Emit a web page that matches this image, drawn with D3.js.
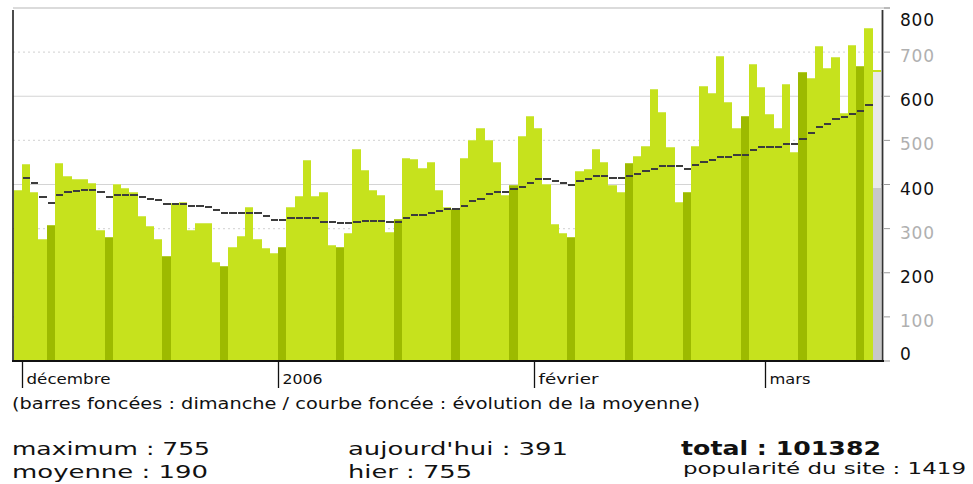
<!DOCTYPE html>
<html>
<head>
<meta charset="utf-8">
<script src="https://cdn.jsdelivr.net/npm/d3@7"></script>
<style>
  body { margin: 0; background: #fff; }
  text { font-family: "DejaVu Sans", Verdana, sans-serif; }
</style>
</head>
<body>
<div id="chart"></div>
<script>
// daily visits, 30 nov 2005 -> 13 mars 2006 (today is drawn apart)
var visits = [388, 447, 383, 277, 308, 449, 420, 413, 413, 404,
              297, 281, 401, 392, 384, 329, 305, 277, 237, 358,
              361, 297, 313, 313, 225, 216, 259, 284, 349, 277,
              256, 245, 259, 348, 373, 456, 373, 384, 263, 259,
              289, 481, 433, 388, 376, 293, 321, 461, 457, 437,
              452, 388, 350, 344, 461, 501, 529, 501, 452, 376,
              400, 510, 556, 529, 402, 311, 289, 280, 431, 435,
              481, 452, 398, 382, 448, 465, 488, 617, 564, 484,
              361, 384, 488, 624, 608, 692, 588, 529, 556, 673,
              620, 560, 529, 628, 473, 656, 641, 713, 665, 689,
              562, 717, 669, 755];
// évolution de la moyenne
var average = [null, 415, 404, 372, 359, 376, 382, 385, 388, 388,
               382, 372, 376, 376, 376, 372, 367, 365, 355, 355,
               355, 352, 351, 349, 342, 336, 336, 336, 336, 336,
               329, 320, 320, 323, 323, 323, 323, 316, 316, 312,
               312, 316, 318, 318, 318, 316, 316, 324, 331, 331,
               335, 341, 344, 344, 351, 362, 367, 378, 382, 384,
               389, 395, 403, 412, 412, 407, 403, 399, 407, 412,
               420, 420, 414, 414, 420, 424, 431, 435, 441, 441,
               441, 435, 444, 450, 456, 463, 463, 467, 467, 478,
               486, 486, 486, 491, 491, 503, 516, 531, 538, 548,
               552, 559, 566, 580];
var todayVisits = 391;
var todayProjected = 660;

var startDay = new Date(2005, 10, 30);
var endDay = new Date(2006, 2, 15);
var monthLabels = ["décembre", "2006", "février", "mars"];
var yTicks = [0, 100, 200, 300, 400, 500, 600, 700, 800];

var statsLeft = ["maximum : 755", "moyenne : 190"];
var statsMid = ["aujourd'hui : 391", "hier : 755"];

var width = 973, height = 484;
var plotLeft = 13.7, plotRight = 881, plotTop = 8, plotBottom = 361;

var svg = d3.select("#chart").append("svg")
    .attr("width", width).attr("height", height);

var x = d3.scaleTime().domain([startDay, endDay]).range([plotLeft, plotRight]);
var y = d3.scaleLinear().domain([0, 800]).range([plotBottom, plotTop]);

var days = d3.timeDay.range(startDay, endDay);

// grid
svg.append("g").selectAll("line")
    .data(yTicks.filter(function(v){ return v > 0; }))
  .enter().append("line")
    .attr("x1", 13).attr("x2", function(v){ return v == 800 ? 890 : 882; })
    .attr("y1", function(v){ return y(v); }).attr("y2", function(v){ return y(v); })
    .attr("stroke", function(v){ return v == 800 ? "#cfcfcf" : (v % 200 == 0 ? "#d4d4d4" : "#dadada"); })
    .attr("stroke-width", function(v){ return v == 800 ? 1.5 : 1.2; })
    .attr("stroke-dasharray", function(v){ return v % 200 == 0 ? null : "2,3"; });

// bars
var bars = svg.append("g").attr("shape-rendering", "crispEdges");
days.forEach(function(d, i){
  var x0 = Math.round(x(d)), x1 = Math.round(x(d3.timeDay.offset(d, 1)));
  if (i < visits.length) {
    var sunday = d.getDay() == 0;
    var yt = Math.round(y(visits[i]));
    bars.append("rect")
      .attr("x", x0).attr("y", yt)
      .attr("width", x1 - x0).attr("height", plotBottom - yt)
      .attr("fill", sunday ? "#9dba00" : "#c6e21d");
    bars.append("rect")
      .attr("x", x0).attr("y", yt)
      .attr("width", x1 - x0).attr("height", 1)
      .attr("fill", sunday ? "#b3cd30" : "#d2e958");
  } else {
    // today: projection + current value
    var yp = Math.round(y(todayProjected)), yv = Math.round(y(todayVisits));
    bars.append("rect")
      .attr("x", x0).attr("y", yp)
      .attr("width", x1 - x0).attr("height", plotBottom - yp)
      .attr("fill", "#e9e9e9");
    bars.append("rect")
      .attr("x", x0).attr("y", yp)
      .attr("width", x1 - x0).attr("height", 2)
      .attr("fill", "#c6e21d");
    bars.append("rect")
      .attr("x", x0).attr("y", yv)
      .attr("width", x1 - x0).attr("height", plotBottom - yv)
      .attr("fill", "#c8c8c8");
  }
});

// average line, one step per day
var avg = svg.append("g").attr("shape-rendering", "crispEdges");
days.forEach(function(d, i){
  if (average[i] == null) return;
  var x0 = Math.round(x(d)), x1 = Math.round(x(d3.timeDay.offset(d, 1)));
  var ya = Math.round(y(average[i]));
  avg.append("rect")
    .attr("x", x0 + 1).attr("y", ya - 1)
    .attr("width", x1 - x0 - 1).attr("height", 2)
    .attr("fill", "#3c3c3c");
});

// axes frame
svg.append("line").attr("x1", 13).attr("x2", 13).attr("y1", 10).attr("y2", plotBottom)
    .attr("stroke", "#111").attr("stroke-width", 1.5);
svg.append("line").attr("x1", 882.5).attr("x2", 882.5).attr("y1", 10).attr("y2", plotBottom)
    .attr("stroke", "#333").attr("stroke-width", 1.8);
svg.append("line").attr("x1", 12).attr("x2", 884).attr("y1", plotBottom).attr("y2", plotBottom)
    .attr("stroke", "#111").attr("stroke-width", 2);

// right axis
var yAxis = svg.append("g");
yAxis.selectAll("line.tk").data(yTicks).enter().append("line")
    .attr("x1", 884).attr("x2", 890)
    .attr("y1", function(v){ return y(v); }).attr("y2", function(v){ return y(v); })
    .attr("stroke", "#999").attr("stroke-width", 1);
yAxis.selectAll("text").data(yTicks).enter().append("text")
    .attr("x", 900)
    .attr("y", function(v){ return Math.max(26, Math.min(360, y(v) + 10)); })
    .attr("font-size", 17).attr("letter-spacing", 0.8)
    .attr("fill", function(v){ return v % 200 == 0 ? "#111" : "#b0b0b0"; })
    .text(function(v){ return v; });

// month ticks
var months = d3.timeMonth.range(d3.timeMonth.ceil(startDay), endDay);
var monthWidths = [84, 40, 60, 41];
var mx = svg.append("g");
months.forEach(function(m, i){
  var px = Math.round(x(m)) + 0.5;
  mx.append("line").attr("x1", px).attr("x2", px).attr("y1", plotBottom).attr("y2", 388)
    .attr("stroke", "#111").attr("stroke-width", 1.3);
  mx.append("text").attr("x", px + 4).attr("y", 384)
    .attr("font-size", 14).attr("fill", "#111")
    .attr("textLength", monthWidths[i]).attr("lengthAdjust", "spacingAndGlyphs")
    .text(monthLabels[i]);
});

// legend / stats
svg.append("text").attr("x", 12).attr("y", 409).attr("font-size", 15).attr("fill", "#111")
    .attr("textLength", 688).attr("lengthAdjust", "spacingAndGlyphs")
    .text("(barres foncées : dimanche / courbe foncée : évolution de la moyenne)");

var leftW = [198, 196], midW = [220, 124];
statsLeft.forEach(function(s, i){
  svg.append("text").attr("x", 12).attr("y", 455 + i * 23).attr("font-size", 18).attr("fill", "#111")
    .attr("textLength", leftW[i]).attr("lengthAdjust", "spacingAndGlyphs").text(s);
});
statsMid.forEach(function(s, i){
  svg.append("text").attr("x", 348).attr("y", 455 + i * 23).attr("font-size", 18).attr("fill", "#111")
    .attr("textLength", midW[i]).attr("lengthAdjust", "spacingAndGlyphs").text(s);
});
svg.append("text").attr("x", 681).attr("y", 455).attr("font-size", 19).attr("font-weight", "bold")
    .attr("fill", "#111").attr("textLength", 200).attr("lengthAdjust", "spacingAndGlyphs")
    .text("total : 101382");
svg.append("text").attr("x", 683).attr("y", 474).attr("font-size", 15).attr("fill", "#111")
    .attr("textLength", 283).attr("lengthAdjust", "spacingAndGlyphs")
    .text("popularité du site : 1419");
</script>
</body>
</html>
